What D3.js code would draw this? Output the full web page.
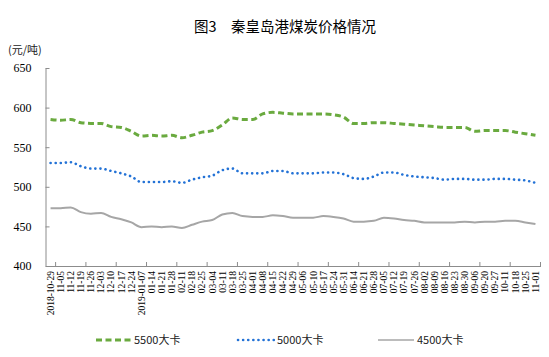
<!DOCTYPE html>
<html><head><meta charset="utf-8">
<script src="https://cdn.jsdelivr.net/npm/d3@7"></script>
<style>body{margin:0;background:#fff}svg{display:block}</style>
</head><body>
<svg id="c" width="549" height="357"></svg>
<script>
const categories = ["2018-10-29","11-05","11-12","11-19","11-26","12-03","12-10","12-17","12-24","2019-01-07","01-14","01-21","01-28","02-11","02-18","02-25","03-04","03-11","03-18","03-25","04-01","04-08","04-15","04-22","04-29","05-06","05-10","05-17","05-24","05-31","06-14","06-21","06-28","07-05","07-12","07-19","07-26","08-02","08-09","08-16","08-23","08-30","09-06","09-20","09-27","10-11","10-18","10-25","11-01"];
const s5500 = [585,584,585,581,580,580,576,575,570,564,565,564,565,562,565,569,571,578,587,585,585,592,594,593,592,592,592,592,591,588,580,580,581,581,580,579,578,577,576,575,575,575,570,571,571,571,569,567,565];
const s5000 = [530,530,531,526,523,523,520,517,513,506,506,506,507,505,509,512,514,521,523,517,517,517,520,520,517,517,517,518,518,516,511,510,513,518,518,515,513,512,511,509,510,510,509,509,510,510,509,508,505];
const s4500 = [473,473,474,468,466,467,462,459,455,449,450,449,450,448,452,456,458,465,467,463,462,462,464,463,461,461,461,463,462,460,456,456,457,461,460,458,457,455,455,455,455,456,455,456,456,457,457,455,453];
const seriesNames = ["5500大卡","5000大卡","4500大卡"];
const yTicks = [400,450,500,550,600,650];
const title = "图3　秦皇岛港煤炭价格情况";
const unit = "(元/吨)";

const svg = d3.select("#c");
const L = 45.5, R = 540.5, T = 68, B = 266;
const x = d3.scaleBand().domain(categories).range([L, R]).padding(0);
const y = d3.scaleLinear().domain([400, 650]).range([B, T]);
const serif = "'Liberation Serif','Times New Roman',serif";
const cjk = "'Noto Sans CJK SC','Noto Sans',sans-serif";

svg.append("text").attr("x", 285).attr("y", 32).attr("text-anchor", "middle")
  .attr("font-family", cjk).attr("font-size", 14.5).attr("fill", "#000").text(title);
svg.append("text").attr("x", 8).attr("y", 54)
  .attr("font-family", cjk).attr("font-size", 11).attr("fill", "#222").text(unit);

// y axis
const yAxis = d3.axisLeft(y).tickValues(yTicks).tickSize(-4).tickPadding(14).tickSizeOuter(0);
const gy = svg.append("g").attr("transform", `translate(${L},0)`).call(yAxis);
gy.select(".domain").attr("stroke", "#8c8c8c");
gy.selectAll(".tick line").attr("stroke", "#8c8c8c");
gy.selectAll(".tick text").attr("font-family", serif).attr("font-size", 12).attr("fill", "#000");

// x axis
const gx = svg.append("g").attr("transform", `translate(0,${B})`)
  .call(d3.axisBottom(x).tickSize(0).tickSizeOuter(0).tickPadding(0));
gx.select(".domain").attr("stroke", "#8c8c8c");
gx.selectAll(".tick text")
  .attr("font-family", serif).attr("font-size", 9.5).attr("fill", "#000")
  .attr("text-anchor", "end").attr("dy", "0.35em")
  .attr("transform", "translate(0,5) rotate(-90)");
// tick marks between categories every 3
const bw = x.bandwidth();
const tickIdx = d3.range(1, categories.length + 1, 3);
gx.selectAll("line.tb").data(tickIdx).join("line").attr("class", "tb")
  .attr("x1", d => L + d * bw).attr("x2", d => L + d * bw)
  .attr("y1", 0).attr("y2", -4).attr("stroke", "#8c8c8c");

const line = d3.line().x((d, i) => x(categories[i]) + bw / 2).y(d => y(d)).curve(d3.curveMonotoneX);
const styles = [
  {data: s5500, color: "#6aaa3f", width: 3, dash: "6,3.5", cap: "butt"},
  {data: s5000, color: "#2372d6", width: 2.6, dash: "0.1,5", cap: "round"},
  {data: s4500, color: "#a6a6a6", width: 2, dash: null, cap: "butt"}
];
styles.forEach(s => {
  svg.append("path").datum(s.data).attr("d", line).attr("fill", "none")
    .attr("stroke", s.color).attr("stroke-width", s.width)
    .attr("stroke-dasharray", s.dash).attr("stroke-linecap", s.cap);
});

// legend
const legX = [96, 238, 378];
styles.forEach((s, i) => {
  const g = svg.append("g").attr("transform", `translate(${legX[i]},340)`);
  g.append("line").attr("x1", 0).attr("x2", 36).attr("y1", 0).attr("y2", 0)
    .attr("stroke", s.color).attr("stroke-width", i === 2 ? 1.5 : s.width)
    .attr("stroke-dasharray", s.dash).attr("stroke-linecap", s.cap);
  g.append("text").attr("x", i === 0 ? 38 : 39).attr("y", 4)
    .attr("font-family", cjk).attr("font-size", 11).attr("fill", "#222").text(seriesNames[i]);
});
</script>
</body></html>
